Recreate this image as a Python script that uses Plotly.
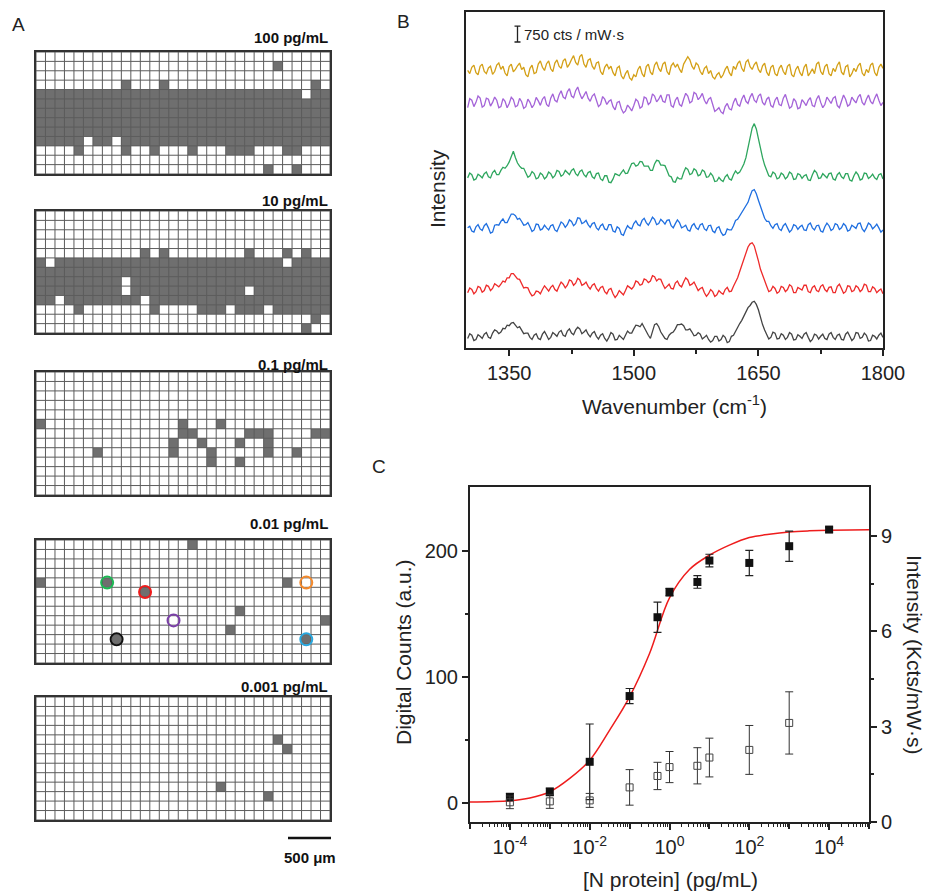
import plotly.graph_objects as go
import numpy as np

W, H = 936, 893
def px(x): return x / W
def py(y): return 1 - y / H

FONT = "Liberation Sans, Arial, sans-serif"
INK = "#222222"

# ---------------- Panel A data: digital grids (13 rows x 31 cols), '#' = positive cell
conc_labels = ["100 pg/mL", "10 pg/mL", "0.1 pg/mL", "0.01 pg/mL", "0.001 pg/mL"]
grid_100 = [
    "...............................",
    ".........................#.....",
    "...............................",
    ".........#...#...............#.",
    "############################.##",
    "###############################",
    "###############################",
    "###############################",
    "###############################",
    "#####.##.######################",
    "....#....#..#...#...###...##...",
    "...............................",
    "........................#..#...",
]
grid_10 = [
    "...............................",
    "...............................",
    "...............................",
    "...............................",
    "...........#.#........#...#.#..",
    "#.########################.####",
    "###############################",
    "#########.#####################",
    "#########.############.########",
    "##.########.###################",
    "....#.......#....###.###.######",
    ".............................#.",
    "............................#..",
]
grid_01 = [
    "...............................",
    "...............................",
    "...............................",
    "...............................",
    "...............................",
    "#..............#...#...........",
    "...............##.....###....##",
    "..............#..#...#..#......",
    "......#.......#...#.....#..#...",
    "..................#..#.........",
    "...............................",
    "...............................",
    "...............................",
]
grid_001 = [
    "................#..............",
    "...............................",
    "...............................",
    "...............................",
    "#......#..................#....",
    "...........#...................",
    "...............................",
    ".....................#.........",
    "..............................#",
    "....................#..........",
    "........#...................#..",
    "...............................",
    "...............................",
]
grid_0001 = [
    "...............................",
    "...............................",
    "...............................",
    "...............................",
    ".........................#.....",
    "..........................#....",
    "...............................",
    "...............................",
    "...............................",
    "...................#...........",
    "........................#......",
    "...............................",
    "...............................",
]
grids = [grid_100, grid_10, grid_01, grid_001, grid_0001]
circle_rows = [4, 5, 4, 8, 10, 10]
circle_cols = [7, 11, 28, 14, 8, 28]
circle_colors = ["#1db954", "#ee1c1c", "#f58a2c", "#7b3fa8", "#111111", "#29a8e0"]

grid_tops = [52, 211, 372, 540, 697]
grid_bots = [174, 333, 495, 663, 820]
title_ys = [38, 200, 364, 523, 686]
GX0, GX1 = 36, 330

# ---------------- Panel B data: SERS spectra (cts / mW·s)
wn_main = [1300 + 5 * i for i in range(101)]
wn_mid = [1302.5 + 5 * i for i in range(100)]

gold_main = [0, 150, -100, 200, -50, 120, -180, 250, 50, -120,
             180, -60, 220, 40, -200, 100, -150, 300, 150, 320,
             80, 350, 200, 450, 150, 520, 380, 650, 300, 480,
             200, 350, -50, 150, 80, -100, 120, -250, -150, -350,
             -200, 50, -150, 180, -80, 250, 100, 300, -50, 220,
             150, 60, 300, 650, 200, 350, -50, 100, -150, -300,
             -200, -350, 50, -100, 200, 320, 100, 400, 180, 280,
             50, 220, -80, 150, -150, 100, -50, 200, -200, 50,
             -100, 150, -250, 80, 300, -50, 180, -150, 100, 250,
             -80, 180, -300, 100, 220, -120, 50, 250, -100, 150, 100]
gold_mid = [-150, 250, -200, 300, -150, 200, -50, 350, 200, -250,
            300, 50, 350, 150, -300, 250, -100, 450, 0, 450,
            -50, 500, 100, 550, 300, 700, 250, 750, 150, 550,
            50, 400, -200, 300, 200, -250, 200, -400, 0, -450,
            -300, 200, -300, 300, -200, 400, -50, 400, -200, 350,
            300, -100, 450, 500, 50, 250, -200, 200, 0, -400,
            -100, -200, 200, -250, 50, 450, -50, 500, 50, 400,
            -100, 350, -250, 250, -250, 250, -200, 300, -300, 200,
            -250, 300, -100, -150, 400, -200, 300, -250, -50, 400,
            -200, 250, -150, -50, 350, -250, -100, 350, -250, 300]
purple_main = [-200, 150, 50, 250, -100, 200, 50, 150, -150, 100,
               0, 180, -100, 80, -150, 50, -50, 120, 200, -50,
               250, 150, 400, 300, 550, 350, 600, 450, 380, 250,
               350, 150, -50, 200, 100, -150, 50, -250, -350, -200,
               -100, 100, -150, 250, 50, 350, 200, 100, 400, -100,
               150, -50, 200, 350, 100, 450, 300, 150, 200, -50,
               -300, -400, -150, -250, 50, -50, 200, 100, 300, 150,
               350, 50, 200, -100, 150, -50, 250, 100, -150, 100,
               -200, 50, 150, -100, 200, 50, -50, 150, 250, -100,
               100, 200, -50, 150, 300, 50, 200, 100, 250, 150, 50]
purple_mid = [225, -150, 350, -175, 250, -125, 300, -200, 225, -200,
              290, -160, 240, -235, 200, -200, 285, -90, 325, -150,
              450, 75, 600, 225, 700, 275, 775, 215, 565, 100,
              450, -150, 325, -50, 175, -300, 100, -450, -75, -350,
              200, -225, 300, -50, 450, 75, 400, 50, 400, -175,
              300, -125, 475, 25, 525, 175, 475, -25, 275, -375,
              -200, -475, 0, -300, 250, -125, 400, 0, 475, 50,
              450, -75, 300, -175, 300, -100, 425, -225, 225, -250,
              175, -100, 275, -150, 375, -200, 300, 0, 325, -200,
              400, -125, 300, 25, 425, -75, 400, -25, 450, -100]
green_main = [-50, 100, -100, 50, 150, 0, 200, 100, 300, 400,
              700, 1200, 650, 400, 200, 50, 150, -50, 100, 0,
              150, 50, 250, 100, 200, 300, 150, 250, 100, 200,
              0, 150, -100, 50, -250, -100, 100, 200, 150, 400,
              650, 550, 700, 500, 300, 600, 750, 550, 300, 0,
              -250, -100, 200, 350, 150, 300, 100, 250, 0, 50,
              -200, -150, 0, -100, 100, 150, 400, 900, 1900, 2500,
              1800, 900, 300, 0, 150, -50, 100, 0, 150, -100,
              100, 50, -150, 100, 200, -50, 50, 150, -100, 100,
              0, 150, -150, 50, 100, -100, 150, 0, -50, 100, -100]
green_mid = [175, -150, 125, -50, 225, -50, 300, 100, 450, 520,
             1000, 900, 500, 400, -25, 250, -100, 175, -100, 225,
             -50, 300, 25, 300, 100, 375, 50, 325, 0, 250,
             -75, 175, -175, 50, -275, 150, 50, 325, 175, 625,
             500, 725, 500, 500, 300, 775, 550, 525, 50, -225,
             -25, -100, 425, 100, 375, 50, 325, -25, 175, -225,
             -25, -225, 100, -150, 275, 225, 600, 1350, 2300, 2250,
             1300, 550, 50, 225, -100, 175, -100, 225, -125, 150,
             -75, 100, -175, 300, -75, 150, -50, 175, -150, 200,
             -75, 150, -200, 225, -150, 175, -75, 125, -125, 150]
blue_main = [0, -150, 50, -50, 100, 0, -200, 150, 300, 250,
             450, 650, 400, 300, 150, 50, -100, 150, -50, 0,
             100, -100, 50, 200, 150, 300, 200, 450, 250, 150,
             200, 0, 100, -50, 150, -150, 50, -300, -100, 0,
             200, 150, 350, 250, 300, 400, 200, 300, 350, 100,
             200, 250, 50, -100, 100, 0, 150, -50, 100, -150,
             0, -200, -300, -100, 100, 400, 700, 1000, 1500, 1800,
             1300, 700, 300, 100, 150, -50, 100, 0, -100, 100,
             50, -100, 150, 0, 100, -150, 50, 100, -50, 150,
             0, 100, -100, 50, 200, -50, 0, 150, 50, 0, -100]
blue_mid = [75, -200, 150, -125, 200, -250, 125, 125, 425, 250,
            650, 575, 450, 125, 250, -175, 175, -100, 125, -100,
            150, -175, 275, 25, 375, 100, 475, 200, 350, 25,
            250, -100, 175, -100, 150, -200, -25, -350, 100, -50,
            325, 100, 450, 125, 500, 150, 400, 175, 375, 0,
            375, 0, 125, -150, 200, -75, 200, -125, 125, -225,
            50, -350, -50, -100, 350, 550, 850, 1200, 1750, 1600,
            1000, 450, 300, -25, 200, -125, 200, -200, 150, -75,
            125, -125, 225, -100, 125, -200, 225, -125, 200, -75,
            200, -150, 125, -25, 225, -175, 225, -50, 175, -200]
red_main = [-100, 50, -50, 150, 0, 200, 100, 250, 300, 400,
            600, 800, 550, 300, 150, -100, -200, -50, 50, 100,
            150, 50, 200, 300, 250, 450, 350, 500, 300, 200,
            250, 100, 150, -50, 50, -150, -200, -100, 0, 150,
            200, 400, 300, 500, 450, 650, 550, 300, 200, 100,
            350, 250, 400, 500, 300, 200, 100, -100, -150, -50,
            -200, -100, 50, -50, 200, 600, 1200, 1800, 2200, 2100,
            1400, 700, 200, 0, 100, -50, 150, 50, 200, -100,
            100, 250, -50, 150, 0, 200, 50, 150, -100, 200,
            100, -50, 200, 0, 150, 50, 250, -50, 100, 0, -150]
red_mid = [125, -150, 200, -75, 250, 0, 325, 175, 450, 600,
           800, 700, 525, 125, 125, -250, -25, -150, 225, -25,
           250, -25, 400, 125, 500, 250, 575, 250, 400, 75,
           325, -25, 200, -150, 100, -325, 0, -200, 225, 75,
           450, 250, 550, 375, 700, 450, 525, 100, 300, 75,
           450, 175, 600, 250, 400, 0, 150, -275, 50, -275,
           0, -175, 150, -25, 400, 900, 1500, 2050, 2250, 1800,
           1000, 400, -50, 200, -125, 200, -50, 275, -100, 150,
           25, 250, -100, 225, -50, 275, -50, 175, -100, 300,
           -125, 225, -50, 225, -50, 300, -50, 175, -100, 75]
black_main = [-50, 100, -100, 50, 150, 0, 200, 300, 250, 400,
              550, 700, 450, 350, 200, 0, 100, -50, 150, 100,
              0, 150, 250, 100, 300, 200, 350, 400, 250, 150,
              200, 50, 100, -50, 0, 150, -100, 0, 100, 200,
              400, 550, 650, 300, -50, 600, 500, 100, -100, 200,
              400, 600, 550, 350, 250, 100, 150, 0, -100, -150,
              50, -100, 0, -200, 100, 500, 800, 1200, 1500, 1700,
              1300, 600, 150, 0, 200, -50, 100, 0, 150, -100,
              50, 150, 0, -100, 100, 50, -50, 150, 0, 100,
              -100, 150, 50, -50, 200, 0, 100, -150, 50, 100, 0]
black_mid = [175, -150, 125, -50, 225, -50, 350, 175, 425, 575,
             675, 575, 500, 175, 200, -100, 175, -100, 275, -100,
             225, 50, 325, 50, 400, 125, 475, 175, 350, 25,
             275, -75, 175, -175, 225, -125, 100, -100, 300, 200,
             575, 500, 450, 100, 300, 650, 250, -50, 100, 250,
             600, 625, 350, 400, 75, 225, -75, 100, -225, 50,
             -175, 100, -250, 50, 300, 650, 1000, 1400, 1650, 1550,
             900, 350, -75, 250, -75, 175, -100, 225, -125, 125,
             -50, 225, -200, 150, -75, 150, -100, 225, -100, 150,
             -125, 250, -150, 225, -50, 200, -175, 100, -75, 200]

spectra_main = [gold_main, purple_main, green_main, blue_main, red_main, black_main]
spectra_mid = [gold_mid, purple_mid, green_mid, blue_mid, red_mid, black_mid]
spec_offsets = [13050, 11500, 8050, 5650, 2700, 500]
spec_colors = ["#d4a017", "#a463d8", "#2ea65e", "#1f6fe0", "#ee2a2a", "#444444"]
scale_bar_cts = 750

# ---------------- Panel C data
conc_f = [1e-4, 1e-3, 1e-2, 1e-1, 0.5, 1, 5, 10, 100, 1000, 1e4]
counts = [4.8, 9, 32.8, 85, 147.6, 167.5, 175.6, 192.6, 190.7, 204, 217.2]
counts_err = [3, 3, 30, 6, 12, 3, 5, 5, 10, 12, 2]
conc_o = [1e-4, 1e-3, 1e-2, 1e-1, 0.5, 1, 5, 10, 100, 1000]
sers_int = [0.62, 0.65, 0.68, 1.09, 1.45, 1.73, 1.77, 2.03, 2.27, 3.12]
sers_err = [0.2, 0.22, 0.22, 0.56, 0.43, 0.49, 0.57, 0.61, 0.77, 0.98]
fit_x = [1e-5, 1e-4, 10**-3.5, 1e-3, 10**-2.5, 1e-2, 10**-1.5, 1e-1, 10**-0.5,
         1, 10**0.5, 10, 10**1.5, 100, 10**2.5, 1000, 10**3.5, 1e4, 1e5]
fit_y = [0.8, 1.8, 4, 9, 19.6, 34, 58, 84.4, 118.8,
         163, 185.5, 196.8, 204.8, 210.9, 213.5, 215.3, 216.2, 216.7, 217]
x_labels = ["10<sup>-4</sup>", "10<sup>-2</sup>", "10<sup>0</sup>", "10<sup>2</sup>", "10<sup>4</sup>"]

fig = go.Figure()
layout = dict(
    width=W, height=H, autosize=False,
    margin=dict(l=0, r=0, t=0, b=0, pad=0, autoexpand=False),
    paper_bgcolor="white", plot_bgcolor="white",
    showlegend=False,
    font=dict(family=FONT, color=INK, size=20),
)
annotations = []
shapes = []

# ---------------- Panel A
for k, g in enumerate(grids):
    n = k + 1
    xa, ya = f"x{n}", f"y{n}"
    z = [[1 if ch == "#" else 0 for ch in row] for row in g]
    nr, nc = len(g), len(g[0])
    fig.add_trace(go.Heatmap(z=z, x=list(range(nc)), y=list(range(nr)),
                             colorscale=[[0, "#ffffff"], [1, "#6f6f6f"]],
                             zmin=0, zmax=1, showscale=False, hoverinfo="skip",
                             xaxis=xa, yaxis=ya))
    lx, ly = [], []
    for c in range(nc + 1):
        lx += [c - 0.5, c - 0.5, None]
        ly += [-0.5, nr - 0.5, None]
    for r in range(nr + 1):
        lx += [-0.5, nc - 0.5, None]
        ly += [r - 0.5, r - 0.5, None]
    fig.add_trace(go.Scatter(x=lx, y=ly, mode="lines",
                             line=dict(color="#5c5c5c", width=1),
                             hoverinfo="skip", xaxis=xa, yaxis=ya))
    layout[f"xaxis{n}"] = dict(domain=[px(GX0), px(GX1)], range=[-0.5, nc - 0.5],
                               anchor=ya, showgrid=False, zeroline=False, automargin=False,
                               showticklabels=False, ticks="",
                               showline=True, mirror=True, linecolor="#333333", linewidth=1.5)
    layout[f"yaxis{n}"] = dict(domain=[py(grid_bots[k]), py(grid_tops[k])],
                               range=[nr - 0.5, -0.5], anchor=xa, showgrid=False,
                               zeroline=False, showticklabels=False, ticks="", automargin=False,
                               showline=True, mirror=True, linecolor="#333333", linewidth=1.5)
    annotations.append(dict(text=f"<b>{conc_labels[k]}</b>", xref="paper", yref="paper",
                            x=px(GX1), y=py(title_ys[k]), xanchor="right", yanchor="middle",
                            showarrow=False, font=dict(size=15, color="#111111")))
    if k == 3:
        fig.add_trace(go.Scatter(x=circle_cols, y=circle_rows, mode="markers",
                                 marker=dict(symbol="circle-open", size=12,
                                             color=circle_colors, line=dict(width=2)),
                                 hoverinfo="skip", xaxis=xa, yaxis=ya))

shapes.append(dict(type="line", xref="paper", yref="paper",
                   x0=px(288), x1=px(331), y0=py(838), y1=py(838),
                   line=dict(color="#111111", width=2.5)))
annotations.append(dict(text="<b>500 μm</b>", xref="paper", yref="paper",
                        x=px(310), y=py(857), xanchor="center", yanchor="middle",
                        showarrow=False, font=dict(size=15, color="#111111")))

# ---------------- Panel B
for sm, sd, off, col in zip(spectra_main, spectra_mid, spec_offsets, spec_colors):
    pts = sorted(list(zip(wn_main, sm)) + list(zip(wn_mid, sd)))
    fig.add_trace(go.Scatter(x=[p[0] for p in pts], y=[p[1] + off for p in pts],
                             mode="lines", line=dict(color=col, width=1.3),
                             hoverinfo="skip", xaxis="x6", yaxis="y6"))
fig.add_trace(go.Scatter(x=[1360], y=[14765], mode="markers",
                         marker=dict(size=1, color="rgba(0,0,0,0)"),
                         error_y=dict(type="constant", value=scale_bar_cts / 2, width=3,
                                      thickness=1.3, color=INK),
                         hoverinfo="skip", xaxis="x6", yaxis="y6"))
annotations.append(dict(text=f"{scale_bar_cts} cts / mW·s", xref="x6", yref="y6",
                        x=1366, y=14765, xanchor="left", yanchor="middle",
                        showarrow=False, font=dict(size=15, color=INK)))
layout["xaxis6"] = dict(domain=[px(466), px(883)], range=[1298, 1800], anchor="y6",
                        tickvals=[1350, 1500, 1650, 1800], ticks="outside", ticklen=6,
                        tickwidth=1.5, tickcolor=INK, automargin=False,
                        minor=dict(tickmode="array", tickvals=[1425, 1575, 1725],
                                   ticks="outside", ticklen=4, tickwidth=1.5, tickcolor=INK),
                        showline=True, mirror=True, linecolor=INK, linewidth=2,
                        showgrid=False, zeroline=False, tickfont=dict(size=20, color=INK))
layout["yaxis6"] = dict(domain=[py(348), py(12)], range=[0, 15800], anchor="x6",
                        showticklabels=False, ticks="", showgrid=False, zeroline=False,
                        automargin=False,
                        showline=True, mirror=True, linecolor=INK, linewidth=2)
annotations.append(dict(text="Wavenumber (cm<sup>-1</sup>)", xref="paper", yref="paper",
                        x=px(674), y=py(405), xanchor="center", yanchor="middle",
                        showarrow=False, font=dict(size=21, color=INK)))
annotations.append(dict(text="Intensity", xref="paper", yref="paper",
                        x=px(437), y=py(189), xanchor="center", yanchor="middle",
                        textangle=-90, showarrow=False, font=dict(size=21, color=INK)))

# ---------------- Panel C
fig.add_trace(go.Scatter(x=conc_o, y=sers_int, mode="markers",
                         marker=dict(symbol="square-open", size=7, color="#444444",
                                     line=dict(width=1)),
                         error_y=dict(type="data", array=sers_err, width=4, thickness=1,
                                      color="#333333"),
                         hoverinfo="skip", xaxis="x7", yaxis="y8"))
fig.add_trace(go.Scatter(x=fit_x, y=fit_y, mode="lines",
                         line=dict(color="#ee1c1c", width=1.5, shape="spline", smoothing=1.0),
                         hoverinfo="skip", xaxis="x7", yaxis="y7"))
fig.add_trace(go.Scatter(x=conc_f, y=counts, mode="markers",
                         marker=dict(symbol="square", size=8, color="#111111"),
                         error_y=dict(type="data", array=counts_err, width=4, thickness=1.2,
                                      color="#222222"),
                         hoverinfo="skip", xaxis="x7", yaxis="y7"))
fig.add_trace(go.Scatter(x=[1e-3], y=[0], mode="markers",
                         marker=dict(size=1, color="rgba(0,0,0,0)"),
                         hoverinfo="skip", xaxis="x9", yaxis="y7"))

even_dec = [10.0 ** e for e in (-4, -2, 0, 2, 4)]
odd_dec = [10.0 ** e for e in (-5, -3, -1, 1, 3, 5)]
minor_x = [m * 10.0 ** e for e in range(-5, 5) for m in range(2, 10)]
layout["xaxis7"] = dict(type="log", domain=[px(470), px(869)], range=[-5, 5], anchor="y7",
                        tickmode="array", tickvals=even_dec, ticktext=x_labels,
                        ticks="outside", ticklen=6, tickwidth=1.5, tickcolor=INK,
                        automargin=False,
                        minor=dict(tickmode="array", tickvals=minor_x, ticks="outside",
                                   ticklen=3, tickwidth=1, tickcolor=INK),
                        showline=True, mirror=True, linecolor=INK, linewidth=2,
                        showgrid=False, zeroline=False, tickfont=dict(size=20, color=INK))
layout["xaxis9"] = dict(type="log", overlaying="x7", anchor="y7", side="bottom",
                        range=[-5, 5], tickmode="array", tickvals=odd_dec, automargin=False,
                        showticklabels=False, ticks="outside", ticklen=6, tickwidth=1.5,
                        tickcolor=INK, showline=False, showgrid=False, zeroline=False)
layout["yaxis7"] = dict(domain=[py(822), py(487)], range=[-15, 251], anchor="x7",
                        tickvals=[0, 100, 200], ticks="outside", ticklen=6, tickwidth=1.5,
                        tickcolor=INK, automargin=False,
                        minor=dict(tickmode="array", tickvals=[50, 150], ticks="outside",
                                   ticklen=3, tickwidth=1.5, tickcolor=INK),
                        showline=True, linecolor=INK, linewidth=2,
                        showgrid=False, zeroline=False, tickfont=dict(size=20, color=INK))
layout["yaxis8"] = dict(overlaying="y7", side="right", range=[0, 10.55], anchor="x7",
                        tickvals=[0, 3, 6, 9], ticks="outside", ticklen=6, tickwidth=1.5,
                        tickcolor=INK, automargin=False,
                        minor=dict(tickmode="array", tickvals=[1.5, 4.5, 7.5], ticks="outside",
                                   ticklen=3, tickwidth=1.5, tickcolor=INK),
                        showline=True, linecolor=INK, linewidth=2,
                        showgrid=False, zeroline=False, tickfont=dict(size=20, color=INK))
annotations.append(dict(text="Digital Counts (a.u.)", xref="paper", yref="paper",
                        x=px(403), y=py(652), xanchor="center", yanchor="middle",
                        textangle=-90, showarrow=False, font=dict(size=21, color=INK)))
annotations.append(dict(text="Intensity (Kcts/mW·s)", xref="paper", yref="paper",
                        x=px(915), y=py(655), xanchor="center", yanchor="middle",
                        textangle=90, showarrow=False, font=dict(size=21, color=INK)))
annotations.append(dict(text="[N protein] (pg/mL)", xref="paper", yref="paper",
                        x=px(670), y=py(879), xanchor="center", yanchor="middle",
                        showarrow=False, font=dict(size=21, color=INK)))

for lab, lx, ly in [("A", 18, 24), ("B", 403, 22), ("C", 379, 466)]:
    annotations.append(dict(text=lab, xref="paper", yref="paper", x=px(lx), y=py(ly),
                            xanchor="center", yanchor="middle", showarrow=False,
                            font=dict(size=19, color=INK)))

layout["annotations"] = annotations
layout["shapes"] = shapes
fig.update_layout(**layout)
fig.write_html("out.html",
               config={"displayModeBar": False, "responsive": False},
               default_width=f"{W}px", default_height=f"{H}px",
               post_script="document.documentElement.style.margin='0px';"
                           "document.documentElement.style.overflow='hidden';"
                           "document.body.style.margin='0px';"
                           "document.body.style.overflow='hidden';")
